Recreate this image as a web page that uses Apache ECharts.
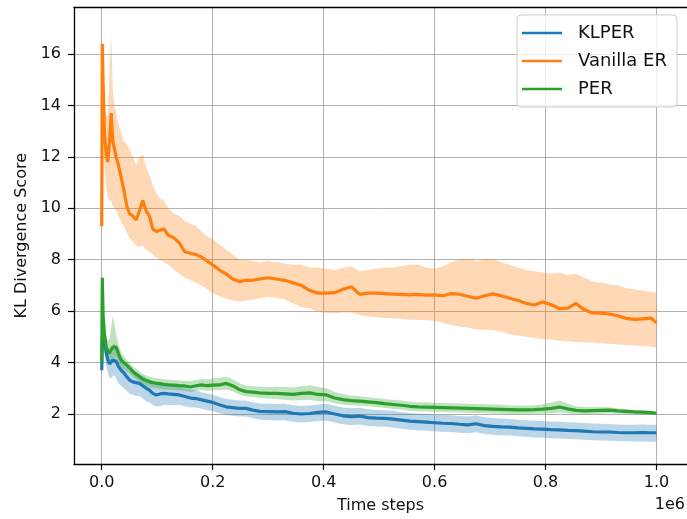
<!DOCTYPE html>
<html><head><meta charset="utf-8">
<script src="https://cdn.jsdelivr.net/npm/echarts@6/dist/echarts.min.js"></script>
<style>html,body{margin:0;padding:0;background:#fff}#c{width:687px;height:519px}</style>
</head><body><div id="c"></div>
<script>
// time steps in thousands
const stepsK = [0, 1, 2.5, 5, 8, 11, 14, 17, 20, 23, 26,
  30, 35, 40, 45, 50,
  56, 62, 68, 74, 80, 86, 92, 98,
  105, 112, 120,
  130, 140, 150, 160, 170, 180, 190, 200,
  212, 224, 236, 248, 260, 272,
  285, 300,
  315, 330, 345, 360, 375, 390, 405, 420, 435, 450,
  465, 480, 495, 510, 525, 540, 555, 570, 585, 600,
  615, 630, 645, 660, 675, 690, 705, 720, 735, 750,
  765, 780, 795, 810, 825, 840, 855, 870, 885, 900,
  915, 930, 945, 960, 975, 990,
  1000];

const vanillaMean = [9.3, 16.4, 14.8, 12.9, 12.1, 11.8, 12.6, 13.7, 12.6, 12.3, 12.0,
  11.7, 11.2, 10.7, 10.1, 9.8,
  9.7, 9.55, 9.9, 10.3, 9.9, 9.7, 9.2, 9.1,
  9.15, 9.2, 8.95,
  8.85, 8.65, 8.3, 8.25, 8.2, 8.1, 7.95, 7.8,
  7.6, 7.45, 7.25, 7.15, 7.2, 7.2,
  7.25, 7.3,
  7.25, 7.2, 7.1, 7.0, 6.8, 6.7, 6.7, 6.72, 6.85, 6.95,
  6.65, 6.7, 6.7, 6.68, 6.66, 6.65, 6.63, 6.65, 6.62, 6.63,
  6.6, 6.68, 6.66, 6.58, 6.5, 6.6, 6.67, 6.6, 6.5, 6.42,
  6.3, 6.24, 6.36, 6.25, 6.1, 6.12, 6.3, 6.05, 5.93, 5.92,
  5.89, 5.82, 5.72, 5.68, 5.7, 5.73,
  5.55];
const vanillaHi = [9.4, 16.6, 15.6, 14.2, 13.6, 13.6, 15.2, 16.8, 14.6, 14.0, 13.7,
  13.3, 12.9, 12.6, 12.5, 12.3,
  12.0, 11.7, 12.0, 12.1, 11.6, 11.3, 10.9, 10.6,
  10.4, 10.3, 10.0,
  9.8, 9.7, 9.5, 9.4, 9.3, 9.1, 8.9, 8.8,
  8.6, 8.4, 8.2, 8.0, 8.0, 7.95,
  7.9, 7.95,
  7.9, 7.85, 7.8, 7.8, 7.7, 7.7, 7.65, 7.6, 7.7, 7.75,
  7.55, 7.6, 7.65, 7.7, 7.7, 7.75, 7.8, 7.8, 7.7, 7.65,
  7.75, 7.9, 8.0, 8.05, 7.95, 8.0, 8.05, 7.9, 7.8, 7.7,
  7.6, 7.55, 7.5, 7.45, 7.5, 7.4, 7.45, 7.3, 7.15, 7.1,
  7.05, 7.0, 6.9, 6.85, 6.8, 6.75,
  6.7];
const vanillaLo = [9.2, 15.8, 13.2, 11.6, 10.8, 10.4, 10.3, 10.3, 10.1, 10.0, 9.9,
  9.7, 9.5, 9.3, 9.05, 8.85,
  8.7, 8.55, 8.5, 8.55, 8.4, 8.3, 8.2, 8.1,
  8.0, 7.9, 7.8,
  7.6, 7.45, 7.3, 7.2, 7.1, 7.0, 6.85, 6.7,
  6.58, 6.48, 6.42, 6.37, 6.4, 6.45,
  6.5, 6.55,
  6.52, 6.45, 6.3, 6.15, 6.1, 5.98, 5.93, 5.92, 5.95, 5.95,
  5.85, 5.8, 5.76, 5.73, 5.72, 5.7, 5.67, 5.66, 5.65, 5.63,
  5.55, 5.45, 5.4, 5.35, 5.3, 5.28, 5.27, 5.2, 5.1, 5.05,
  5.0, 4.95, 4.92, 4.9, 4.85, 4.82, 4.8, 4.78, 4.77, 4.75,
  4.73, 4.7, 4.68, 4.66, 4.64, 4.62,
  4.6];

const klperMean = [3.7, 4.8, 5.2, 4.8, 4.4, 4.1, 3.95, 4.0, 4.1, 4.15, 4.05,
  3.85, 3.7, 3.6, 3.45, 3.32,
  3.25, 3.22, 3.19, 3.1, 3.0, 2.93, 2.8, 2.74,
  2.78, 2.8, 2.78,
  2.76, 2.74, 2.68, 2.62, 2.6, 2.55, 2.5, 2.45,
  2.36, 2.28, 2.25, 2.22, 2.22, 2.15,
  2.1, 2.09,
  2.08, 2.09, 2.03, 2.0, 2.02, 2.06, 2.08, 2.0, 1.93, 1.9,
  1.92, 1.86, 1.84, 1.83, 1.8, 1.76, 1.72, 1.7, 1.68, 1.66,
  1.64, 1.63, 1.6, 1.58, 1.62, 1.55, 1.52, 1.5, 1.49, 1.46,
  1.44, 1.42, 1.41, 1.39, 1.38, 1.36, 1.35, 1.33, 1.31, 1.3,
  1.3, 1.28, 1.27, 1.27, 1.28, 1.27,
  1.27];
const klperHi = [3.8, 5.0, 5.6, 5.3, 4.9, 4.6, 4.5, 4.6, 4.7, 4.75, 4.6,
  4.4, 4.2, 4.0, 3.85, 3.7,
  3.6, 3.6, 3.55, 3.5, 3.4, 3.35, 3.25, 3.2,
  3.2, 3.2, 3.15,
  3.12, 3.1, 3.0, 2.95, 2.92, 2.85, 2.8, 2.75,
  2.66, 2.58, 2.55, 2.52, 2.52, 2.46,
  2.41, 2.4,
  2.39, 2.4, 2.34, 2.31, 2.33, 2.37, 2.4, 2.32, 2.25, 2.22,
  2.24, 2.18, 2.16, 2.15, 2.12, 2.08, 2.04, 2.02, 2.0, 1.98,
  1.96, 1.95, 1.92, 1.9, 1.94, 1.87, 1.84, 1.82, 1.81, 1.78,
  1.76, 1.74, 1.73, 1.71, 1.7, 1.68, 1.67, 1.65, 1.63, 1.62,
  1.61, 1.59, 1.58, 1.58, 1.59, 1.58,
  1.58];
const klperLo = [3.6, 4.5, 4.8, 4.3, 3.9, 3.6, 3.4, 3.4, 3.5, 3.5, 3.4,
  3.2, 3.1, 3.0, 2.9, 2.8,
  2.75, 2.7, 2.7, 2.6, 2.5, 2.45, 2.35, 2.3,
  2.3, 2.35, 2.35,
  2.35, 2.35, 2.3, 2.25, 2.25, 2.2, 2.15, 2.12,
  2.03, 1.96, 1.93, 1.9, 1.9, 1.83,
  1.78, 1.77,
  1.75, 1.76, 1.7, 1.67, 1.69, 1.73, 1.75, 1.67, 1.6, 1.57,
  1.59, 1.53, 1.51, 1.5, 1.47, 1.43, 1.39, 1.37, 1.35, 1.33,
  1.31, 1.3, 1.27, 1.25, 1.29, 1.22, 1.19, 1.17, 1.16, 1.13,
  1.11, 1.09, 1.08, 1.06, 1.05, 1.03, 1.02, 1.0, 0.98, 0.97,
  0.96, 0.95, 0.94, 0.93, 0.93, 0.92,
  0.92];

const perMean = [4.0, 7.3, 5.8, 5.1, 4.62, 4.45, 4.37, 4.5, 4.6, 4.65, 4.6,
  4.35, 4.1, 4.0, 3.9, 3.8,
  3.65, 3.55, 3.45, 3.35, 3.3, 3.25, 3.22, 3.2,
  3.18, 3.15, 3.13,
  3.12, 3.1, 3.09, 3.05, 3.1, 3.13, 3.1, 3.12,
  3.13, 3.19, 3.1, 2.95, 2.87, 2.85,
  2.82, 2.8,
  2.8, 2.78, 2.76, 2.8, 2.82, 2.76, 2.74, 2.62, 2.56, 2.52,
  2.5, 2.47, 2.44, 2.4, 2.37, 2.34, 2.3, 2.28, 2.27, 2.26,
  2.25, 2.24, 2.23, 2.22, 2.21, 2.2, 2.19, 2.18, 2.17, 2.16,
  2.16, 2.17, 2.19, 2.22, 2.27, 2.2, 2.14, 2.12, 2.13, 2.14,
  2.15, 2.12, 2.1, 2.08, 2.07, 2.05,
  2.03];
const perHi = [4.1, 7.4, 6.2, 5.5, 5.0, 4.85, 4.9, 5.4, 5.8, 5.5, 5.1,
  4.7, 4.4, 4.25, 4.12, 4.0,
  3.85, 3.75, 3.65, 3.55, 3.5, 3.45, 3.42, 3.4,
  3.38, 3.35, 3.33,
  3.32, 3.3, 3.29, 3.27, 3.32, 3.36, 3.34, 3.38,
  3.4, 3.45, 3.35, 3.2, 3.1, 3.08,
  3.06, 3.05,
  3.06, 3.05, 3.03, 3.08, 3.12, 3.05, 3.0, 2.86, 2.78, 2.72,
  2.69, 2.65, 2.62, 2.58, 2.55, 2.52, 2.48, 2.46, 2.45, 2.44,
  2.43, 2.42, 2.41, 2.4, 2.39, 2.38, 2.37, 2.36, 2.34, 2.33,
  2.32, 2.34, 2.38, 2.45, 2.52, 2.4, 2.3, 2.27, 2.26, 2.26,
  2.26, 2.22, 2.19, 2.16, 2.14, 2.11,
  2.09];
const perLo = [3.9, 7.1, 5.4, 4.8, 4.3, 4.1, 4.0, 4.1, 4.15, 4.2, 4.2,
  4.0, 3.8, 3.72, 3.65, 3.58,
  3.45, 3.35, 3.25, 3.15, 3.1, 3.05, 3.02, 3.0,
  2.98, 2.95, 2.94,
  2.93, 2.91, 2.9, 2.86, 2.9, 2.93, 2.9, 2.92,
  2.92, 2.95, 2.88, 2.75, 2.68, 2.66,
  2.62, 2.6,
  2.58, 2.55, 2.52, 2.54, 2.55, 2.5, 2.5, 2.42, 2.36, 2.34,
  2.32, 2.3, 2.27, 2.23, 2.2, 2.17, 2.13, 2.11, 2.1, 2.09,
  2.08, 2.07, 2.06, 2.05, 2.04, 2.03, 2.02, 2.01, 2.0, 2.0,
  2.0, 2.01, 2.02, 2.03, 2.06, 2.02, 1.99, 1.98, 2.0, 2.01,
  2.03, 2.01, 1.99, 1.99, 1.98, 1.97,
  1.96];

const xTicks = [0, 200000, 400000, 600000, 800000, 1000000];
const yTicks = [2, 4, 6, 8, 10, 12, 14, 16];
const seriesNames = ['KLPER', 'Vanilla ER', 'PER'];
const colors = ['#1f77b4', '#ff7f0e', '#2ca02c'];
const bandColors = ['rgba(31,119,180,0.3)', 'rgba(255,127,14,0.3)', 'rgba(44,160,44,0.3)'];

const FONT = 'DejaVu Sans';
const steps = stepsK.map(k => k * 1000);
const pts = y => steps.map((s, i) => [s, y[i]]);

function band(lo, hi, color) {
  return {
    type: 'custom', silent: true, z: 1, clip: true, animation: false,
    data: [[steps[0], lo[0]]],
    renderItem(params, api) {
      if (params.dataIndex !== 0) return null;
      const up = steps.map((s, i) => api.coord([s, hi[i]]));
      const dn = steps.map((s, i) => api.coord([s, lo[i]])).reverse();
      return { type: 'polygon', shape: { points: up.concat(dn) }, style: { fill: color } };
    }
  };
}
function line(name, y, color) {
  return {
    type: 'line', name, data: pts(y), showSymbol: false, z: 2, animation: false,
    lineStyle: { color, width: 3.2 }, itemStyle: { color }
  };
}

const X_MIN = -50000, X_MAX = 1055000;
const chart = echarts.init(document.getElementById('c'), null, { renderer: 'canvas' });
chart.setOption({
  backgroundColor: '#fff',
  animation: false,
  grid: { left: 74, right: -3, top: 7.5, bottom: 55, show: false },
  xAxis: [{
    type: 'value', min: X_MIN, max: X_MAX,
    name: 'Time steps', nameLocation: 'middle', nameGap: 34,
    nameTextStyle: { fontSize: 16, fontFamily: FONT, color: '#111' },
    axisLine: { show: true, onZero: false, lineStyle: { color: '#000', width: 1.3 } },
    axisTick: { show: true, customValues: xTicks, length: 6, lineStyle: { color: '#000', width: 1.2 } },
    axisLabel: { customValues: xTicks, margin: 11, fontSize: 16, fontFamily: FONT, color: '#111',
      formatter: v => (v / 1e6).toFixed(1) },
    splitLine: { show: true, lineStyle: { color: '#b0b0b0', width: 1 } }
  }, {
    type: 'value', position: 'top', min: X_MIN, max: X_MAX,
    axisLine: { show: true, onZero: false, lineStyle: { color: '#000', width: 1.3 } },
    axisTick: { show: false }, axisLabel: { show: false }, splitLine: { show: false }
  }],
  yAxis: {
    type: 'value', min: 0.055, max: 17.81,
    name: 'KL Divergence Score', nameLocation: 'middle', nameGap: 44,
    nameTextStyle: { fontSize: 16, fontFamily: FONT, color: '#111' },
    axisLine: { show: true, onZero: false, lineStyle: { color: '#000', width: 1.3 } },
    axisTick: { show: true, customValues: yTicks, length: 6, lineStyle: { color: '#000', width: 1.2 } },
    axisLabel: { customValues: yTicks, margin: 13, fontSize: 16, fontFamily: FONT, color: '#111',
      formatter: v => String(Math.round(v)) },
    splitLine: { show: true, lineStyle: { color: '#b0b0b0', width: 1 } }
  },
  legend: {
    data: seriesNames, orient: 'vertical', left: 517, top: 15,
    padding: [8, 10, 8, 5], itemWidth: 40, itemHeight: 2.5, itemGap: 8, icon: 'rect',
    backgroundColor: 'rgba(255,255,255,0.8)', borderColor: '#cccccc', borderWidth: 1, borderRadius: 4,
    textStyle: { fontSize: 18, fontFamily: FONT, color: '#111', lineHeight: 20, padding: [0, 0, 0, 11] }
  },
  graphic: [{ type: 'text', right: 2, top: 497, style: { text: '1e6', fontSize: 16, fontFamily: FONT, fill: '#111' } }],
  series: [
    band(klperLo, klperHi, bandColors[0]),
    band(vanillaLo, vanillaHi, bandColors[1]),
    band(perLo, perHi, bandColors[2]),
    line(seriesNames[0], klperMean, colors[0]),
    line(seriesNames[1], vanillaMean, colors[1]),
    line(seriesNames[2], perMean, colors[2])
  ]
});
</script></body></html>
